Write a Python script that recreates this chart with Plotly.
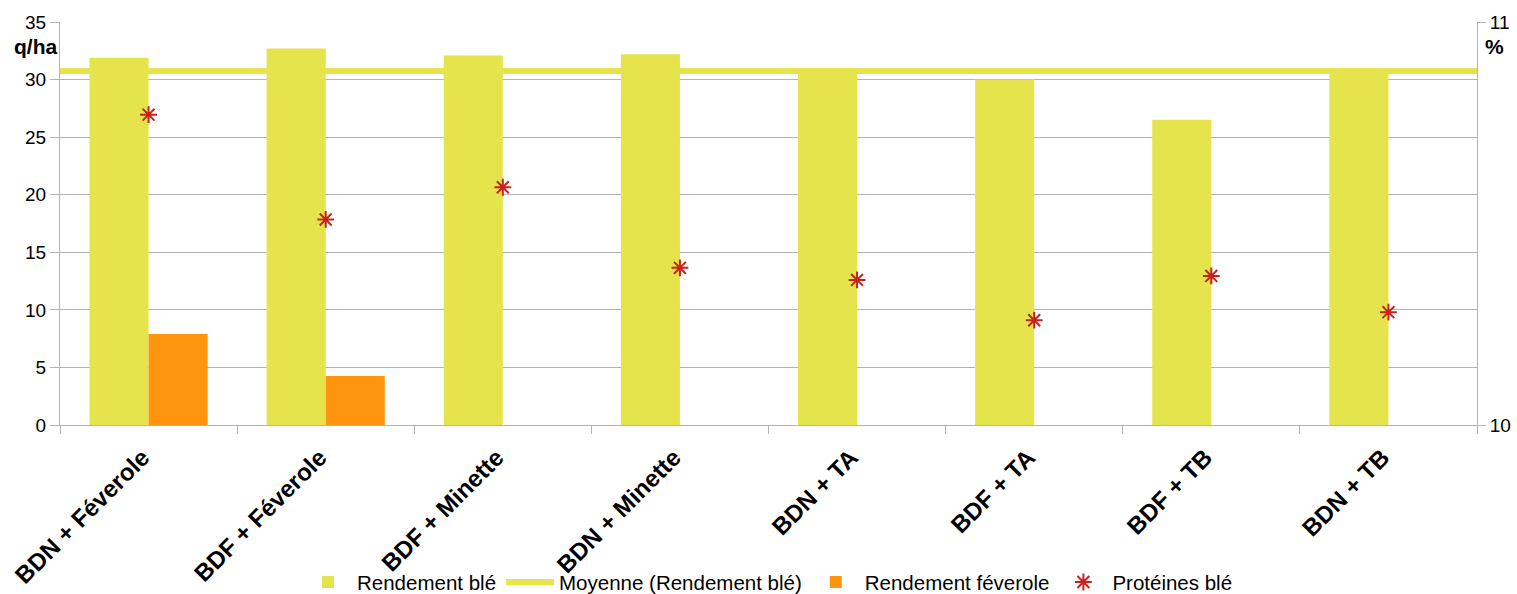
import plotly.graph_objects as go

# Données
categories = ["BDN + Féverole", "BDF + Féverole", "BDF + Minette", "BDN + Minette",
              "BDN + TA", "BDF + TA", "BDF + TB", "BDN + TB"]
rendement_ble = [31.9, 32.7, 32.1, 32.2, 30.8, 30.0, 26.5, 30.8]
rendement_feverole = [7.9, 4.25, None, None, None, None, None, None]
proteines_ble = [10.77, 10.51, 10.59, 10.39, 10.36, 10.26, 10.37, 10.28]
moyenne_ble = 30.75

left_ticks = [0, 5, 10, 15, 20, 25, 30, 35]
right_ticks = [10, 11]

YELLOW = "#e6e44c"
ORANGE = "#ff950e"
RED = "#c9211e"
GRID = "#b3b3b3"
FONT = "Liberation Sans"

fig = go.Figure()

fig.add_trace(go.Bar(
    x=categories, y=rendement_ble, name="Rendement blé",
    marker=dict(color=YELLOW, line=dict(width=0)),
    xaxis="x", yaxis="y",
))

# Ligne de moyenne sur toute la largeur du graphique
fig.add_trace(go.Scatter(
    x=[0, 1], y=[moyenne_ble, moyenne_ble], name="Moyenne (Rendement blé)",
    mode="lines", line=dict(color=YELLOW, width=6),
    xaxis="x2", yaxis="y", hoverinfo="skip",
))

fig.add_trace(go.Bar(
    x=categories, y=rendement_feverole, name="Rendement féverole",
    marker=dict(color=ORANGE, line=dict(width=0)),
    xaxis="x", yaxis="y",
))

fig.add_trace(go.Scatter(
    x=categories, y=proteines_ble, name="Protéines blé",
    mode="markers",
    marker=dict(symbol="asterisk-open", size=14, color=RED,
                line=dict(color=RED, width=2)),
    xaxis="x", yaxis="y2",
))

fig.update_layout(
    width=1517, height=594,
    margin=dict(l=60, r=40, t=22, b=169, autoexpand=False),
    paper_bgcolor="white", plot_bgcolor="white",
    font=dict(family=FONT, size=19, color="#000000"),
    barmode="group", bargap=0.333, bargroupgap=0,
    showlegend=True,
    legend=dict(orientation="h", x=0.5, xanchor="center", y=-0.39, yanchor="middle",
                font=dict(family=FONT, size=20.5), itemwidth=48,
                traceorder="normal", bgcolor="rgba(0,0,0,0)"),
    xaxis=dict(
        type="category", showgrid=False, showline=True, linecolor=GRID, linewidth=1,
        ticks="outside", tickson="boundaries", ticklen=8, tickcolor=GRID,
        tickangle=-45, automargin=False, ticklabelstandoff=8, ticklabelshift=-6,
        tickfont=dict(family=FONT, size=24, weight="bold"),
        zeroline=False,
    ),
    xaxis2=dict(overlaying="x", range=[0, 1], visible=False, fixedrange=True),
    yaxis=dict(
        range=[0, 35], tickvals=left_ticks, showgrid=True, gridcolor=GRID, gridwidth=1,
        showline=True, linecolor=GRID, linewidth=1, ticks="outside", ticklen=9,
        tickcolor=GRID, zeroline=False, automargin=False,
        tickfont=dict(family=FONT, size=19),
    ),
    yaxis2=dict(
        overlaying="y", side="right", range=[10, 11], tickvals=right_ticks,
        showgrid=False, showline=True, linecolor=GRID, linewidth=1,
        ticks="outside", ticklen=8, tickcolor=GRID, zeroline=False, automargin=False,
        tickfont=dict(family=FONT, size=19),
    ),
    annotations=[
        dict(text="<b>q/ha</b>", xref="paper", yref="paper", x=-0.001, y=0.94,
             xanchor="right", yanchor="middle", showarrow=False,
             font=dict(family=FONT, size=21)),
        dict(text="<b>%</b>", xref="paper", yref="paper", x=1.004, y=0.94,
             xanchor="left", yanchor="middle", showarrow=False,
             font=dict(family=FONT, size=21)),
    ],
)

fig.write_html("out.html")
